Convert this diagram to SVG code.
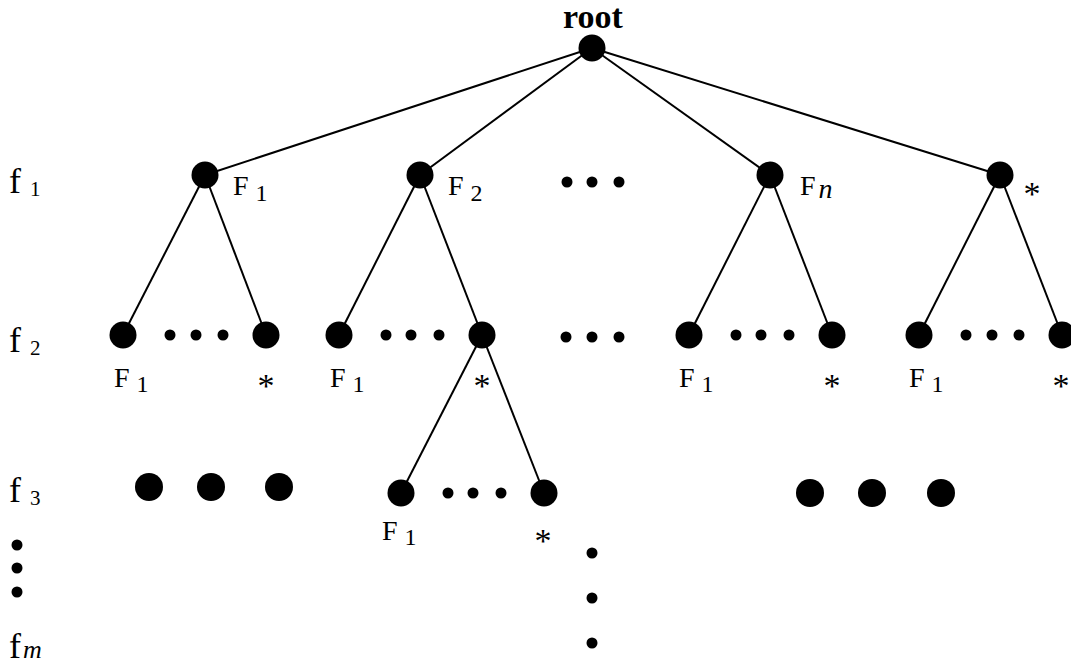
<svg xmlns="http://www.w3.org/2000/svg" width="1071" height="667" viewBox="0 0 1071 667">
<style>
.n{fill:#000}
.e{stroke:#000;stroke-width:2;fill:none}
.t{font-family:"Liberation Serif",serif;font-size:28px;fill:#000}
.s{font-size:24px}
.lv{font-family:"Liberation Serif",serif;font-size:36px;fill:#000}
.ls{font-size:21px}
.st{font-family:"Liberation Serif",serif;font-size:34px;fill:#000;text-anchor:middle}
</style>
<rect width="1071" height="667" fill="#fff"/>
<g id="connectors">
<line class="e" x1="592" y1="48" x2="205" y2="175"/>
<line class="e" x1="592" y1="48" x2="420" y2="175"/>
<line class="e" x1="592" y1="48" x2="770" y2="175"/>
<line class="e" x1="592" y1="48" x2="1000" y2="175"/>
<line class="e" x1="205" y1="175" x2="123" y2="335"/>
<line class="e" x1="205" y1="175" x2="266" y2="335"/>
<line class="e" x1="420" y1="175" x2="339" y2="335"/>
<line class="e" x1="420" y1="175" x2="482" y2="335"/>
<line class="e" x1="770" y1="175" x2="689" y2="335"/>
<line class="e" x1="770" y1="175" x2="832" y2="335"/>
<line class="e" x1="1000" y1="175" x2="919" y2="335"/>
<line class="e" x1="1000" y1="175" x2="1062" y2="335"/>
<line class="e" x1="482" y1="335" x2="401" y2="493"/>
<line class="e" x1="482" y1="335" x2="544" y2="493"/>
</g>
<g id="root"><circle class="n" cx="592" cy="48" r="13.5"/><text x="593" y="28" text-anchor="middle" style="font-family:'Liberation Serif',serif;font-weight:bold;font-size:34px">root</text></g>
<g id="n1-F1"><circle class="n" cx="205" cy="175" r="13.5"/><text class="t" x="233" y="195">F <tspan class="s" dy="6">1</tspan></text></g>
<g id="n1-F2"><circle class="n" cx="420" cy="175" r="13.5"/><text class="t" x="448" y="195">F <tspan class="s" dy="6">2</tspan></text></g>
<g id="n1-Fn"><circle class="n" cx="770" cy="175" r="13.5"/><text class="t" x="800" y="195">F<tspan font-style="italic" dx="3" dy="3">n</tspan></text></g>
<g id="n1-star"><circle class="n" cx="1000" cy="175" r="13.5"/><text class="st" x="1032" y="205">*</text></g>
<g id="dots1"><circle class="n" cx="567" cy="182" r="5.5"/><circle class="n" cx="592" cy="182" r="5.5"/><circle class="n" cx="619" cy="182" r="5.5"/></g>
<g id="n2-a1"><circle class="n" cx="123" cy="335" r="13.5"/><text class="t" x="114" y="387">F <tspan class="s" dy="5">1</tspan></text></g>
<g id="n2-a2"><circle class="n" cx="266" cy="335" r="13.5"/><text class="st" x="266" y="397">*</text></g>
<g id="n2-b1"><circle class="n" cx="339" cy="335" r="13.5"/><text class="t" x="330" y="387">F <tspan class="s" dy="5">1</tspan></text></g>
<g id="n2-b2"><circle class="n" cx="482" cy="335" r="13.5"/><text class="st" x="482" y="397">*</text></g>
<g id="n2-c1"><circle class="n" cx="689" cy="335" r="13.5"/><text class="t" x="679" y="387">F <tspan class="s" dy="5">1</tspan></text></g>
<g id="n2-c2"><circle class="n" cx="832" cy="335" r="13.5"/><text class="st" x="832" y="397">*</text></g>
<g id="n2-d1"><circle class="n" cx="919" cy="335" r="13.5"/><text class="t" x="909" y="387">F <tspan class="s" dy="5">1</tspan></text></g>
<g id="n2-d2"><circle class="n" cx="1062" cy="335" r="13.5"/><text class="st" x="1061" y="397">*</text></g>
<g id="dots2">
<circle class="n" cx="170" cy="335" r="5.5"/><circle class="n" cx="196" cy="335" r="5.5"/><circle class="n" cx="223" cy="335" r="5.5"/>
<circle class="n" cx="386" cy="335" r="5.5"/><circle class="n" cx="411" cy="335" r="5.5"/><circle class="n" cx="439" cy="335" r="5.5"/>
<circle class="n" cx="566" cy="337" r="5.5"/><circle class="n" cx="592" cy="337" r="5.5"/><circle class="n" cx="619" cy="337" r="5.5"/>
<circle class="n" cx="736" cy="335" r="5.5"/><circle class="n" cx="761" cy="335" r="5.5"/><circle class="n" cx="789" cy="335" r="5.5"/>
<circle class="n" cx="966" cy="335" r="5.5"/><circle class="n" cx="992" cy="335" r="5.5"/><circle class="n" cx="1019" cy="335" r="5.5"/>
</g>
<g id="n3-1"><circle class="n" cx="401" cy="493" r="13.5"/><text class="t" x="382" y="540">F <tspan class="s" dy="5">1</tspan></text></g>
<g id="n3-2"><circle class="n" cx="544" cy="493" r="13.5"/><text class="st" x="543" y="552">*</text></g>
<g id="dots3">
<circle class="n" cx="448" cy="493" r="5.5"/><circle class="n" cx="473" cy="493" r="5.5"/><circle class="n" cx="501" cy="493" r="5.5"/>
<circle class="n" cx="149" cy="487" r="14"/><circle class="n" cx="211" cy="487" r="14"/><circle class="n" cx="279" cy="487" r="14"/>
<circle class="n" cx="810" cy="493" r="14"/><circle class="n" cx="872" cy="493" r="14"/><circle class="n" cx="941" cy="493" r="14"/>
<circle class="n" cx="592" cy="553" r="5.5"/><circle class="n" cx="592" cy="598" r="5.5"/><circle class="n" cx="592" cy="643" r="5.5"/>
<circle class="n" cx="17" cy="545" r="5.5"/><circle class="n" cx="17" cy="568" r="5.5"/><circle class="n" cx="17" cy="592" r="5.5"/>
</g>
<g id="levels">
<text class="lv" x="9" y="193">f <tspan class="ls" dy="3">1</tspan></text>
<text class="lv" x="9" y="352">f <tspan class="ls" dy="3">2</tspan></text>
<text class="lv" x="9" y="502">f <tspan class="ls" dy="3">3</tspan></text>
<text class="lv" x="9" y="658">f<tspan font-style="italic" dx="2" style="font-size:26px">m</tspan></text>
</g>
</svg>
